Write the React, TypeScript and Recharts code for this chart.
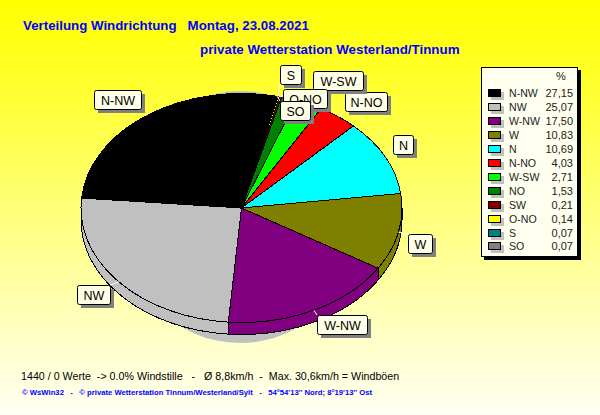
import React from "react";
import { PieChart, Pie, Legend } from "recharts";

const directions = ["N-NW", "NW", "W-NW", "W", "N", "N-NO", "W-SW", "NO", "SW", "O-NO", "S", "SO"];
const shares = [27.15, 25.07, 17.5, 10.83, 10.69, 4.03, 2.71, 1.53, 0.21, 0.14, 0.07, 0.07];
const shareLabels = ["27,15", "25,07", "17,50", "10,83", "10,69", "4,03", "2,71", "1,53", "0,21", "0,14", "0,07", "0,07"];
const colors = ["#000000", "#c0c0c0", "#800080", "#808000", "#00ffff", "#ff0000", "#00ff00", "#008000", "#800000", "#ffff00", "#008080", "#808080"];

const data = directions.map((name, i) => ({ name, value: shares[i], fill: colors[i] }));

// label boxes sit where the original program put them: [left, top, width]
const labelBoxes: Record<string, [number, number, number]> = {
  "N-NW": [94, 90, 47],
  NW: [77, 285, 33],
  "W-NW": [317, 315, 50],
  W: [408, 234, 24],
  N: [393, 135, 20],
  "N-NO": [345, 92, 42],
  "W-SW": [313, 71, 50],
  "O-NO": [283, 89, 44],
  S: [280, 65, 21],
  SO: [280, 101, 30],
};

const FLATTEN = 114.5 / 160.5;
const DEPTH = 12;
const RAD = Math.PI / 180;

const arcPoint = (cx: number, cy: number, r: number, deg: number) => ({
  x: cx + r * Math.cos(deg * RAD),
  y: cy - r * FLATTEN * Math.sin(deg * RAD),
});

const TopSlice = (props: any) => {
  const { cx, cy, outerRadius, startAngle, endAngle, fill } = props;
  const a = arcPoint(cx, cy, outerRadius, startAngle);
  const b = arcPoint(cx, cy, outerRadius, endAngle);
  const large = Math.abs(endAngle - startAngle) > 180 ? 1 : 0;
  const ry = outerRadius * FLATTEN;
  return (
    <path
      d={`M${cx},${cy}L${a.x},${a.y}A${outerRadius},${ry} 0 ${large} 0 ${b.x},${b.y}Z`}
      fill={fill}
      stroke="#000"
      strokeWidth={1}
      shapeRendering="crispEdges"
    />
  );
};

// the rim of the disc, only the part turned to the viewer
const WallSlice = (props: any) => {
  const { cx, cy, outerRadius, startAngle, endAngle, fill } = props;
  const ry = outerRadius * FLATTEN;
  const paths: string[] = [];
  [[180, 360], [540, 720]].forEach(([lo, hi]) => {
    const from = Math.max(lo, startAngle);
    const to = Math.min(hi, endAngle);
    if (to <= from) return;
    const a = arcPoint(cx, cy, outerRadius, from);
    const b = arcPoint(cx, cy, outerRadius, to);
    paths.push(
      `M${a.x},${a.y}A${outerRadius},${ry} 0 0 0 ${b.x},${b.y}` +
        `L${b.x},${b.y + DEPTH}A${outerRadius},${ry} 0 0 1 ${a.x},${a.y + DEPTH}Z`
    );
  });
  if (!paths.length) return null;
  return <path d={paths.join("")} fill={fill} stroke="#000" strokeWidth={1} shapeRendering="crispEdges" />;
};

const SliceLabel = (props: any) => {
  const { cx, cy, outerRadius, midAngle, name } = props;
  const box = labelBoxes[name];
  if (!box) return null;
  const [left, top, width] = box;
  const height = 19;
  const p = arcPoint(cx, cy, outerRadius, midAngle);
  const endX = Math.min(Math.max(p.x, left), left + width);
  const endY = Math.min(Math.max(p.y, top), top + height);
  return (
    <g>
      <line x1={p.x} y1={p.y} x2={endX} y2={endY} stroke="#fff" strokeWidth={1} />
      <rect x={left + 4} y={top + 4} width={width} height={height} fill="#808080" />
      <rect x={left + 0.5} y={top + 0.5} width={width} height={height} rx={2} fill="#ffffe8" stroke="#000" />
      <text
        x={left + width / 2 + 0.5}
        y={top + 14.5}
        textAnchor="middle"
        fontFamily="'Liberation Sans', Arial, sans-serif"
        fontSize={12.5}
        fill="#000"
      >
        {name}
      </text>
    </g>
  );
};

const LegendBox = () => (
  <div
    style={{
      position: "relative",
      width: 97,
      height: 190,
      boxSizing: "border-box",
      background: "#fffff0",
      border: "1px solid #000",
      boxShadow: "3px 3px 0 #000",
      fontFamily: "'Liberation Sans', Arial, sans-serif",
      fontSize: 11,
      color: "#222",
    }}
  >
    <div style={{ position: "absolute", left: 70, top: 2, width: 18, textAlign: "center", lineHeight: "13px" }}>%</div>
    {directions.map((name, i) => (
      <div key={name} style={{ position: "absolute", left: 0, right: 0, top: 18 + i * 13.95, height: 14, lineHeight: "14px" }}>
        <div
          style={{
            position: "absolute",
            left: 6,
            top: 3,
            width: 13,
            height: 8,
            boxSizing: "border-box",
            background: colors[i],
            border: "1px solid #000",
            boxShadow: "3px 3px 0 #c0c0c0",
          }}
        />
        <span style={{ position: "absolute", left: 27, fontSize: 10.6 }}>{name}</span>
        <span style={{ position: "absolute", right: 4 }}>{shareLabels[i]}</span>
      </div>
    ))}
  </div>
);

const textLine = (left: number, top: number, style: React.CSSProperties, text: string) => (
  <div style={{ position: "absolute", left, top, whiteSpace: "pre", fontFamily: "'Liberation Sans', Arial, sans-serif", ...style }}>
    {text}
  </div>
);

export default function App() {
  return (
    <div
      style={{
        position: "absolute",
        left: 0,
        top: 0,
        width: 600,
        height: 415,
        overflow: "hidden",
        background: "linear-gradient(#ffff00 0%, #ffff20 15%, #fffff4 100%)",
      }}
    >
      <PieChart width={600} height={415} margin={{ top: 0, right: 0, bottom: 0, left: 0 }}>
        <ellipse cx={240} cy={217} rx={120} ry={126} fill="#c0c0c0" />
        <Pie
          data={data}
          dataKey="value"
          nameKey="name"
          cx={241.5}
          cy={208}
          outerRadius={160.5}
          startAngle={77.3}
          endAngle={437.3}
          shape={WallSlice}
          stroke="none"
          isAnimationActive={false}
        />
        <Pie
          data={data}
          dataKey="value"
          nameKey="name"
          cx={241.5}
          cy={208}
          outerRadius={160.5}
          startAngle={77.3}
          endAngle={437.3}
          shape={TopSlice}
          label={SliceLabel}
          labelLine={false}
          isAnimationActive={false}
        />
        <Legend
          content={LegendBox}
          layout="vertical"
          align="right"
          verticalAlign="top"
          wrapperStyle={{ left: 481, top: 67, width: 97 }}
        />
      </PieChart>
      {textLine(23, 18, { fontSize: 13.3, fontWeight: "bold", color: "#0000ff" }, "Verteilung Windrichtung   Montag, 23.08.2021")}
      {textLine(200, 42, { fontSize: 13.35, fontWeight: "bold", color: "#0000ff" }, "private Wetterstation Westerland/Tinnum")}
      {textLine(21, 370, { fontSize: 10.7, color: "#000" }, "1440 / 0 Werte  -> 0.0% Windstille   -   Ø 8,8km/h  -  Max. 30,6km/h = Windböen")}
      {textLine(22, 388, { fontSize: 7.7, fontWeight: "bold", color: "#0000ff" }, "© WsWin32   -   © private Wetterstation Tinnum/Westerland/Sylt   -   54°54'13'' Nord; 8°19'13'' Ost")}
    </div>
  );
}
